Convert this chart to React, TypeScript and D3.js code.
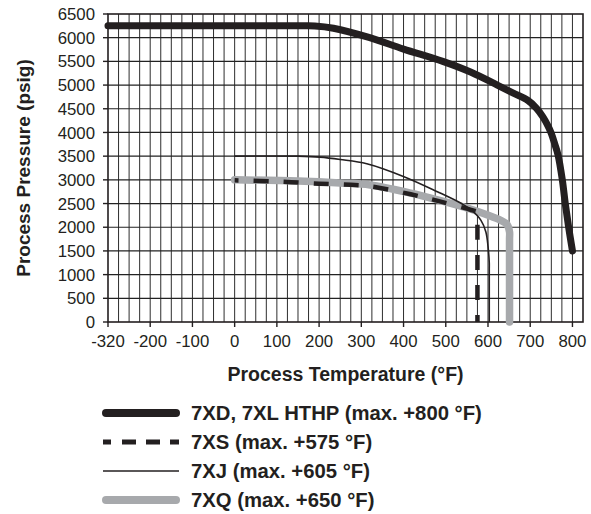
import React from "react";
import * as d3 from "d3";

// ---- data ----
const xTickValues = [-320, -200, -100, 0, 100, 200, 300, 400, 500, 600, 700, 800];
const xTickLabels = ["-320", "-200", "-100", "0", "100", "200", "300", "400", "500", "600", "700", "800"];
const yTickValues = [0, 500, 1000, 1500, 2000, 2500, 3000, 3500, 4000, 4500, 5000, 5500, 6000, 6500];
const yTickLabels = ["0", "500", "1000", "1500", "2000", "2500", "3000", "3500", "4000", "4500", "5000", "5500", "6000", "6500"];

// 7XD, 7XL HTHP
const seriesXD: [number, number][] = [
  [-320, 6250], [150, 6250], [190, 6248], [234, 6200], [320, 6000], [400, 5760], [493, 5500],
  [560, 5270], [622, 5000], [660, 4830], [694, 4680], [715, 4510], [730, 4330], [742, 4140],
  [750, 3980], [758, 3760], [766, 3520], [776, 3000], [783, 2500], [791, 2000], [800, 1500],
];
// 7XS
const seriesXS: [number, number][] = [
  [0, 2990], [100, 2965], [200, 2920], [275, 2895], [321, 2865], [417, 2695],
  [488, 2540], [560, 2364], [575, 2320], [575, 2250], [575, 0],
];
// 7XJ
const seriesXJ: [number, number][] = [
  [0, 3500], [150, 3500], [202, 3480], [250, 3430], [313, 3340], [401, 3067], [480, 2750],
  [536, 2505], [560, 2364], [583, 2150], [595, 1900], [600, 1600], [603, 1250],
  [603, 1100], [603, 0],
];
// 7XQ
const seriesXQ: [number, number][] = [
  [0, 3000], [150, 2975], [250, 2935], [321, 2892], [417, 2720], [488, 2560],
  [560, 2380], [599, 2258], [630, 2145], [645, 2060], [651, 1900], [651, 1750], [651, 0],
];

const legendLabels = [
  "7XD, 7XL HTHP (max. +800 °F)",
  "7XS (max. +575 °F)",
  "7XJ (max. +605 °F)",
  "7XQ (max. +650 °F)",
];

const INK = "#231f20";
const GREY = "#a7a9ac";
const FONT = "'Liberation Sans', Arial, Helvetica, sans-serif";

export default function App() {
  const left = 108, right = 583, top = 14, bottom = 322;
  const x = d3.scaleLinear().domain([-320, -200, 825]).range([left, left + 42.2, right]);
  const y = d3.scaleLinear().domain([0, 6500]).range([bottom, top]);

  const vGrid = [-290, -260, -230, ...d3.range(-200, 825, 25)];
  const hGrid = yTickValues.slice(1, -1);

  const line = d3
    .line<[number, number]>()
    .x((d) => x(d[0]))
    .y((d) => y(d[1]))
    .curve(d3.curveCatmullRom.alpha(0.5));

  const legendRows = [0, 1, 2, 3].map((i) => 413 + i * 29);

  return (
    <svg
      width={591}
      height={514}
      style={{ position: "absolute", left: 0, top: 0, background: "#fff" }}
      fontFamily={FONT}
    >
      <rect x={0} y={0} width={591} height={514} fill="#fff" />
      {/* grid */}
      {vGrid.map((v) => (
        <line key={"v" + v} x1={x(v)} x2={x(v)} y1={top} y2={bottom} stroke="#2e2e2e" strokeWidth={1} />
      ))}
      {hGrid.map((v) => (
        <line key={"h" + v} x1={left} x2={right} y1={y(v)} y2={y(v)} stroke="#222" strokeWidth={1.2} />
      ))}
      <rect x={left} y={top} width={right - left} height={bottom - top} fill="none" stroke={INK} strokeWidth={1.6} />

      {/* y axis ticks */}
      {yTickValues.map((v, i) => (
        <g key={"yt" + v}>
          <line x1={left - 5} x2={left} y1={y(v)} y2={y(v)} stroke={INK} strokeWidth={1.4} />
          <text x={95} y={y(v)} dy="0.36em" textAnchor="end" fontSize={16.8} fill={INK}>
            {yTickLabels[i]}
          </text>
        </g>
      ))}
      {/* x axis ticks */}
      {xTickValues.map((v, i) => (
        <g key={"xt" + v}>
          <line x1={x(v)} x2={x(v)} y1={bottom} y2={bottom + 5} stroke={INK} strokeWidth={1.4} />
          <text x={x(v)} y={347} textAnchor="middle" fontSize={16.8} fill={INK}>
            {xTickLabels[i]}
          </text>
        </g>
      ))}

      {/* series */}
      <path d={line(seriesXQ) || ""} fill="none" stroke={GREY} strokeWidth={7.5} strokeLinecap="round" strokeLinejoin="round" />
      <path d={line(seriesXS) || ""} fill="none" stroke={INK} strokeWidth={4.5} strokeDasharray="15,15" strokeDashoffset={11} />
      <path d={line(seriesXJ) || ""} fill="none" stroke={INK} strokeWidth={1.6} />
      <path d={line(seriesXD) || ""} fill="none" stroke={INK} strokeWidth={7} strokeLinecap="round" strokeLinejoin="round" />

      {/* axis titles */}
      <text x={(left + right) / 2} y={381} textAnchor="middle" fontSize={19.5} fontWeight="bold" fill={INK}>
        Process Temperature (°F)
      </text>
      <text
        transform={`translate(30,${(top + bottom) / 2}) rotate(-90)`}
        textAnchor="middle"
        fontSize={19}
        fontWeight="bold"
        fill={INK}
      >
        Process Pressure (psig)
      </text>

      {/* legend */}
      <line x1={106} x2={176} y1={legendRows[0]} y2={legendRows[0]} stroke={INK} strokeWidth={8} strokeLinecap="round" />
      <line x1={103} x2={179} y1={legendRows[1]} y2={legendRows[1]} stroke={INK} strokeWidth={5} strokeDasharray="8,11,14,10,14,10,14" />
      <line x1={103} x2={179} y1={legendRows[2]} y2={legendRows[2]} stroke={INK} strokeWidth={1.6} />
      <line x1={106} x2={176} y1={legendRows[3]} y2={legendRows[3]} stroke={GREY} strokeWidth={8} strokeLinecap="round" />
      {legendLabels.map((t, i) => (
        <text key={t} x={191} y={legendRows[i]} dy="0.36em" fontSize={20.3} fontWeight="bold" fill={INK}>
          {t}
        </text>
      ))}
    </svg>
  );
}
